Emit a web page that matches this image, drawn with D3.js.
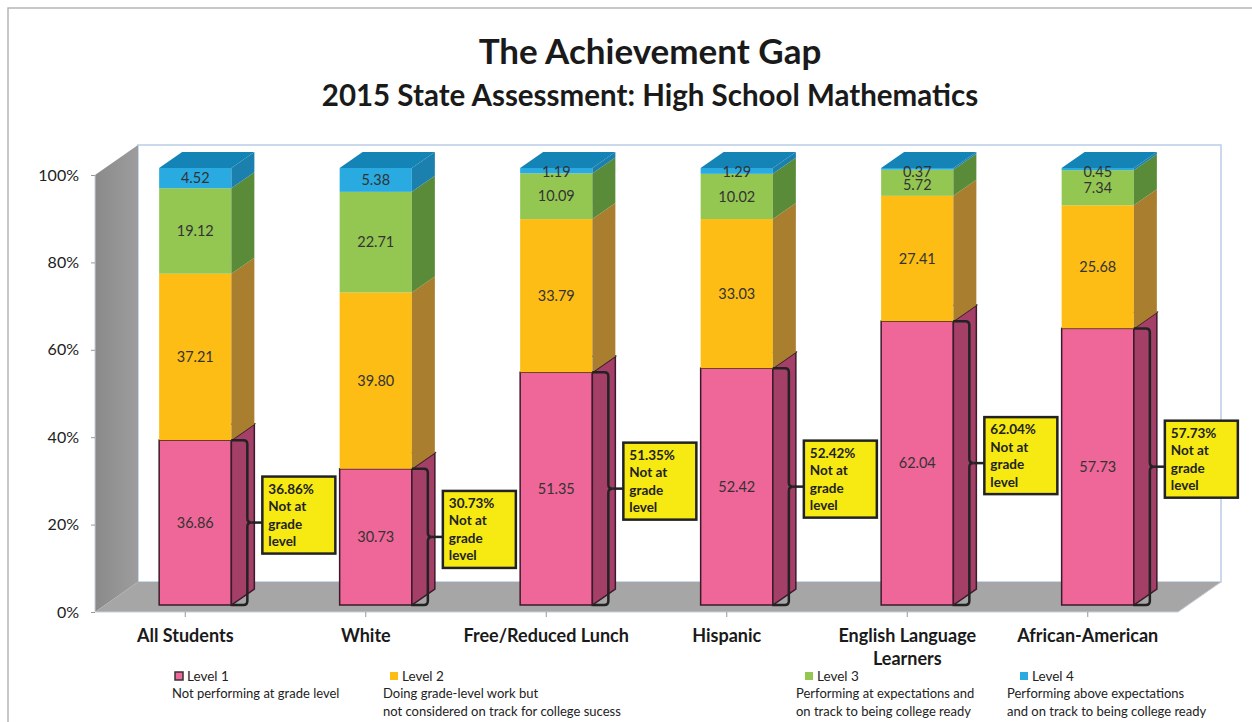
<!DOCTYPE html>
<html>
<head>
<meta charset="utf-8">
<script src="https://cdn.jsdelivr.net/npm/d3@7"></script>
<style>
  body { margin: 0; background: #fff; }
  svg { display: block; font-family: Lato, "Open Sans", sans-serif; }
</style>
</head>
<body>
<div id="chart"></div>
<script>
const categories = ["All Students", "White", "Free/Reduced Lunch", "Hispanic", "English Language Learners", "African-American"];
const level1 = [36.86, 30.73, 51.35, 52.42, 62.04, 57.73];
const level2 = [37.21, 39.80, 33.79, 33.03, 27.41, 25.68];
const level3 = [19.12, 22.71, 10.09, 10.02, 5.72, 7.34];
const level4 = [4.52, 5.38, 1.19, 1.29, 0.37, 0.45];
const yTicks = [0, 20, 40, 60, 80, 100];
const levelNames = ["Level 1", "Level 2", "Level 3", "Level 4"];
const levelNotes = [
    ["Not performing at grade level"],
    ["Doing grade-level work but", "not considered on track for college sucess"],
    ["Performing at expectations and", "on track to being college ready"],
    ["Performing above expectations", "and on track to being college ready"]
];

const W = 1252, H = 722;
const front = {left: 95, right: 1178, top: 175, bottom: 612};
const depth = {dx: 43, dy: 30};        // wall depth
const barOff = {dx: 10, dy: 7};        // bar front sits a bit into the floor
const barDepth = {dx: 23, dy: 16};

const colors = {
    face: ["#ef6699", "#fdbd15", "#93c752", "#29aae1"],
    side: ["#a43f68", "#a97f2f", "#5a8b39", "#1b80ad"],
    top: "#1483b6"
};

const svg = d3.select("#chart").append("svg")
    .attr("width", W)
    .attr("height", H);

// frame
svg.append("path")
    .attr("d", `M8,${H + 2} V8 H${W + 2}`)
    .attr("fill", "none")
    .attr("stroke", "#b5b5b5")
    .attr("stroke-width", 1.5);

svg.append("text")
    .attr("x", 650).attr("y", 64)
    .attr("text-anchor", "middle")
    .attr("font-size", 35).attr("font-weight", 700).attr("fill", "#1a1a1a")
    .text("The Achievement Gap");

svg.append("text")
    .attr("x", 650).attr("y", 106)
    .attr("text-anchor", "middle")
    .attr("font-size", 29.5).attr("font-weight", 700).attr("fill", "#1a1a1a")
    .text("2015 State Assessment: High School Mathematics");

const x = d3.scaleBand()
    .domain(categories)
    .range([front.left, front.right])
    .paddingInner(0)
    .paddingOuter(0);

const y = d3.scaleLinear()
    .domain([0, 1])
    .range([front.bottom, front.top]);

// walls and floor
const bx0 = front.left + depth.dx, by0 = front.top - depth.dy;
const bx1 = front.right + depth.dx, by1 = front.bottom - depth.dy;

svg.append("rect")
    .attr("x", bx0).attr("y", by0)
    .attr("width", bx1 - bx0).attr("height", by1 - by0)
    .attr("fill", "#fff")
    .attr("stroke", "#b9cde5").attr("stroke-width", 1.5);

const wallGrad = svg.append("defs").append("linearGradient")
    .attr("id", "wall").attr("x1", 0).attr("x2", 1).attr("y1", 0).attr("y2", 0);
wallGrad.append("stop").attr("offset", 0).attr("stop-color", "#8a8a8a");
wallGrad.append("stop").attr("offset", 1).attr("stop-color", "#9d9d9d");

svg.append("path")
    .attr("d", `M${front.left},${front.top} L${bx0},${by0} L${bx0},${by1} L${front.left},${front.bottom} Z`)
    .attr("fill", "url(#wall)");

svg.append("path")
    .attr("d", `M${front.left},${front.bottom} L${bx0},${by1} L${bx1},${by1} L${front.right},${front.bottom} Z`)
    .attr("fill", "#a6a6a6");

svg.append("path")
    .attr("d", `M${front.left},${front.top} V${front.bottom} H${front.right} L${bx1},${by1}`)
    .attr("fill", "none")
    .attr("stroke", "#c8cfd8").attr("stroke-width", 1);

// y axis
const yAxis = svg.append("g")
    .attr("transform", `translate(${front.left},0)`)
    .call(d3.axisLeft(y)
        .tickValues(yTicks.map(d => d / 100))
        .tickFormat(d => Math.round(d * 100) + "%")
        .tickSize(4)
        .tickPadding(12));
yAxis.select(".domain").remove();
yAxis.selectAll(".tick line").attr("stroke", "#999");
yAxis.selectAll(".tick text")
    .attr("font-size", 16).attr("fill", "#222")
    .attr("font-family", "Lato, sans-serif");

// x axis
const xAxis = svg.append("g")
    .attr("transform", `translate(0,${front.bottom})`)
    .call(d3.axisBottom(x).tickSize(5).tickPadding(14));
xAxis.select(".domain").remove();
xAxis.selectAll(".tick line").attr("stroke", "#999");
xAxis.selectAll(".tick text").remove();

categories.forEach(c => {
    const words = c === "English Language Learners" ? ["English Language", "Learners"] : [c];
    const t = svg.append("text")
        .attr("x", x(c) + x.bandwidth() / 2)
        .attr("y", 642)
        .attr("text-anchor", "middle")
        .attr("font-size", 18).attr("font-weight", 700).attr("fill", "#1a1a1a");
    words.forEach((w, i) => {
        t.append("tspan")
            .attr("x", x(c) + x.bandwidth() / 2)
            .attr("dy", i === 0 ? 0 : 23)
            .text(w);
    });
});

// stacked 100% data
const rows = categories.map((c, i) => ({
    cat: c, l1: level1[i], l2: level2[i], l3: level3[i], l4: level4[i]
}));
const keys = ["l1", "l2", "l3", "l4"];
const series = d3.stack().keys(keys).offset(d3.stackOffsetExpand)(rows);

const barW = x.bandwidth() * 0.4;

const bars = svg.append("g").selectAll("g.bar")
    .data(rows)
    .join("g")
    .attr("class", "bar");

bars.each(function (row, i) {
    const g = d3.select(this);
    const x0 = x(row.cat) + (x.bandwidth() - barW) / 2 + barOff.dx;
    const x1 = x0 + barW;
    const labels = [];

    series.forEach((s, k) => {
        const [v0, v1] = s[i];
        const yTop = y(v1) - barOff.dy;
        const yBot = y(v0) - barOff.dy;
        const outline = k === 0 ? "#3b1b2b" : "none";

        g.append("rect")
            .attr("x", x0).attr("y", yTop)
            .attr("width", barW).attr("height", Math.max(0, yBot - yTop))
            .attr("fill", colors.face[k])
            .attr("stroke", outline).attr("stroke-width", 1.5);

        g.append("path")
            .attr("d", `M${x1},${yBot} L${x1},${yTop} L${x1 + barDepth.dx},${yTop - barDepth.dy} L${x1 + barDepth.dx},${yBot - barDepth.dy} Z`)
            .attr("fill", colors.side[k])
            .attr("stroke", outline).attr("stroke-width", 1.5);

        if (k === 0) {
            g.append("path")
                .attr("d", `M${x0},${yTop} L${x0 + barDepth.dx},${yTop - barDepth.dy} L${x1 + barDepth.dx},${yTop - barDepth.dy} L${x1},${yTop}`)
                .attr("fill", "none")
                .attr("stroke", outline).attr("stroke-width", 1.2);
        }

        const value = [row.l1, row.l2, row.l3, row.l4][k];
        labels.push({y: Math.max((yTop + yBot) / 2, y(1) - barOff.dy + 4), text: value.toFixed(2)});
    });
    // keep the two thin top labels from sitting on each other
    if (labels[2].y - labels[3].y < 13) labels[2].y = labels[3].y + 13;

    // top face
    const yT = y(1) - barOff.dy;
    g.append("path")
        .attr("d", `M${x0},${yT} L${x0 + barDepth.dx},${yT - barDepth.dy} L${x1 + barDepth.dx},${yT - barDepth.dy} L${x1},${yT} Z`)
        .attr("fill", colors.top);

    labels.forEach(l => {
        g.append("text")
            .attr("x", x0 + barW / 2)
            .attr("y", l.y)
            .attr("dy", "0.35em")
            .attr("text-anchor", "middle")
            .attr("font-size", 14.5).attr("fill", "#333")
            .text(l.text);
    });

    // bracket + callout for level 1
    const [p0, p1] = series[0][i];
    const yt = y(p1) - barOff.dy;
    const yb = y(p0) - barOff.dy;
    const ym = (yt + yb) / 2;
    const xb = x1 + 16, r = 4;
    g.append("path")
        .attr("d", `M${x1},${yt} H${xb - r} Q${xb},${yt} ${xb},${yt + r} V${ym - r} Q${xb},${ym} ${xb + r},${ym} Q${xb},${ym} ${xb},${ym + r} V${yb - r} Q${xb},${yb} ${xb - r},${yb} H${x1}`)
        .attr("fill", "none")
        .attr("stroke", "#222").attr("stroke-width", 2.5);

    const boxX = x1 + 31, boxY = ym - 46, boxW = 73, boxH = 77;
    g.append("line")
        .attr("x1", xb + r).attr("x2", boxX)
        .attr("y1", ym).attr("y2", ym)
        .attr("stroke", "#222").attr("stroke-width", 2.5);
    g.append("rect")
        .attr("x", boxX).attr("y", boxY)
        .attr("width", boxW).attr("height", boxH)
        .attr("fill", "#f6ea12")
        .attr("stroke", "#222").attr("stroke-width", 2.5);
    const lines = [row.l1.toFixed(2) + "%", "Not at", "grade", "level"];
    lines.forEach((ln, j) => {
        g.append("text")
            .attr("x", boxX + 6)
            .attr("y", boxY + 17 + j * 17.5)
            .attr("font-size", 13.5).attr("font-weight", 700).attr("fill", "#222")
            .text(ln);
    });
});

// legend
const legendX = [175, 390, 805, 1020];
const noteX = [172, 383, 796, 1007];
levelNames.forEach((name, k) => {
    svg.append("rect")
        .attr("x", legendX[k]).attr("y", 672)
        .attr("width", 8).attr("height", 8)
        .attr("fill", colors.face[k])
        .attr("stroke", k === 0 ? "#333" : "none").attr("stroke-width", 1.5);
    svg.append("text")
        .attr("x", legendX[k] + 12).attr("y", 681)
        .attr("font-size", 13.5).attr("fill", "#222")
        .text(name);
    levelNotes[k].forEach((ln, j) => {
        svg.append("text")
            .attr("x", noteX[k]).attr("y", 698 + j * 18)
            .attr("font-size", 13).attr("fill", "#222")
            .text(ln);
    });
});
</script>
</body>
</html>
